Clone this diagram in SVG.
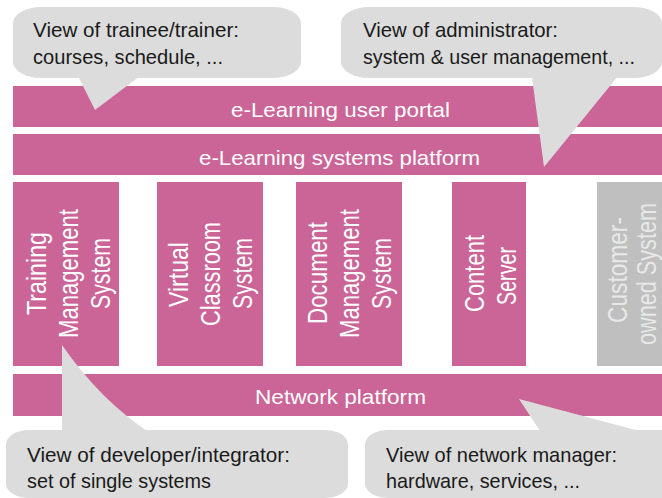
<svg xmlns="http://www.w3.org/2000/svg" width="662" height="498" viewBox="0 0 662 498">
<style>
.bar{fill:#CB6497}
.gray{fill:#BFBFBF}
.bub{fill:#DCDCDC}
.bt{font-family:"Liberation Sans",Arial,sans-serif;font-size:21px;fill:#1A1A1A}
.wt{font-family:"Liberation Sans",Arial,sans-serif;font-size:21px;fill:#FFFFFF}
.vt{font-family:"Liberation Sans",Arial,sans-serif;font-size:28px;fill:#FFFFFF}
.vg{font-family:"Liberation Sans",Arial,sans-serif;font-size:28px;fill:#E8E8E8}
</style>
<rect width="662" height="498" fill="#FFFFFF"/>
<g id="portal">
<rect class="bar" x="13" y="86" width="649" height="41"/>
<text class="wt" x="231" y="117" textLength="219" lengthAdjust="spacingAndGlyphs">e-Learning user portal</text>
</g>
<g id="platform">
<rect class="bar" x="13" y="134" width="649" height="41"/>
<text class="wt" x="199" y="165" textLength="281" lengthAdjust="spacingAndGlyphs">e-Learning systems platform</text>
</g>
<g id="tms">
<rect class="bar" x="13" y="182" width="106" height="184"/>
<g transform="rotate(-90)">
<text class="vt" x="-315" y="46" textLength="83" lengthAdjust="spacingAndGlyphs">Training</text>
<text class="vt" x="-338" y="78" textLength="129" lengthAdjust="spacingAndGlyphs">Management</text>
<text class="vt" x="-309" y="110" textLength="71" lengthAdjust="spacingAndGlyphs">System</text>
</g>
</g>
<g id="vcs">
<rect class="bar" x="157" y="182" width="106" height="184"/>
<g transform="rotate(-90)">
<text class="vt" x="-307" y="188" textLength="65" lengthAdjust="spacingAndGlyphs">Virtual</text>
<text class="vt" x="-326" y="220" textLength="104" lengthAdjust="spacingAndGlyphs">Classroom</text>
<text class="vt" x="-309" y="252" textLength="71" lengthAdjust="spacingAndGlyphs">System</text>
</g>
</g>
<g id="dms">
<rect class="bar" x="296" y="182" width="106" height="184"/>
<g transform="rotate(-90)">
<text class="vt" x="-324" y="327" textLength="102" lengthAdjust="spacingAndGlyphs">Document</text>
<text class="vt" x="-338" y="359" textLength="129" lengthAdjust="spacingAndGlyphs">Management</text>
<text class="vt" x="-309" y="391" textLength="71" lengthAdjust="spacingAndGlyphs">System</text>
</g>
</g>
<g id="cs">
<rect class="bar" x="452" y="182" width="74" height="184"/>
<g transform="rotate(-90)">
<text class="vt" x="-312" y="484" textLength="77" lengthAdjust="spacingAndGlyphs">Content</text>
<text class="vt" x="-305" y="516" textLength="58" lengthAdjust="spacingAndGlyphs">Server</text>
</g>
</g>
<g id="cos">
<rect class="gray" x="597" y="182" width="65" height="184"/>
<g transform="rotate(-90)">
<text class="vg" x="-323" y="627" textLength="106" lengthAdjust="spacingAndGlyphs">Customer-</text>
<text class="vg" x="-345" y="656" textLength="142" lengthAdjust="spacingAndGlyphs">owned System</text>
</g>
</g>
<g id="network">
<rect class="bar" x="13" y="374" width="649" height="42"/>
<text class="wt" x="255" y="404" textLength="171" lengthAdjust="spacingAndGlyphs">Network platform</text>
</g>
<g id="connectors"></g>
<g id="callout-trainee">
<rect class="bub" x="13" y="7" width="288" height="71" rx="28" ry="16"/>
<polygon class="bub" points="75,70 95,110 148,70"/>
<text class="bt" x="33" y="37" textLength="206" lengthAdjust="spacingAndGlyphs">View of trainee/trainer:</text>
<text class="bt" x="33" y="64" textLength="190" lengthAdjust="spacingAndGlyphs">courses, schedule, ...</text>
</g>
<g id="callout-admin">
<rect class="bub" x="341" y="7" width="321" height="71" rx="28" ry="16"/>
<polygon class="bub" points="531,70 544,167 623,70"/>
<text class="bt" x="363" y="37" textLength="195" lengthAdjust="spacingAndGlyphs">View of administrator:</text>
<text class="bt" x="363" y="64" textLength="272" lengthAdjust="spacingAndGlyphs">system &amp; user management, ...</text>
</g>
<g id="callout-developer">
<rect class="bub" x="6" y="430" width="342" height="68" rx="24" ry="14"/>
<path class="bub" d="M62,345 Q100,400 150,433 L150,445 L62,445 Z"/>
<text class="bt" x="27" y="462" textLength="263" lengthAdjust="spacingAndGlyphs">View of developer/integrator:</text>
<text class="bt" x="27" y="488" textLength="184" lengthAdjust="spacingAndGlyphs">set of single systems</text>
</g>
<g id="callout-network">
<rect class="bub" x="365" y="430" width="330" height="68" rx="24" ry="14"/>
<polygon class="bub" points="519,399 546,440 673,440"/>
<text class="bt" x="386" y="462" textLength="231" lengthAdjust="spacingAndGlyphs">View of network manager:</text>
<text class="bt" x="386" y="488" textLength="194" lengthAdjust="spacingAndGlyphs">hardware, services, ...</text>
</g>
</svg>
